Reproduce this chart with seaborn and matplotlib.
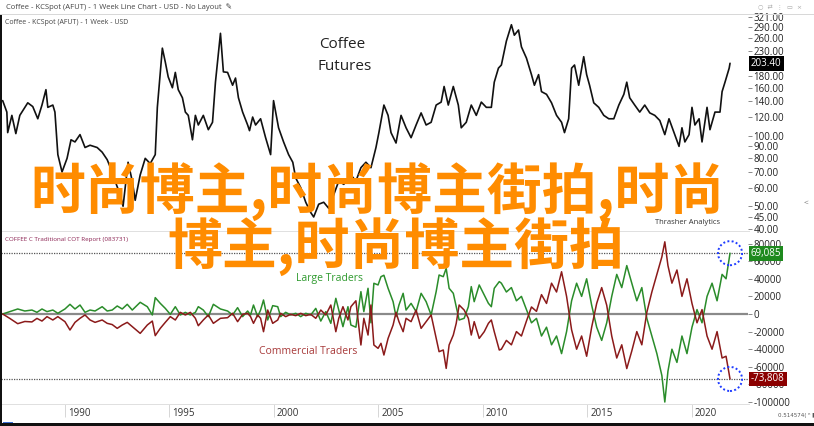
import matplotlib
matplotlib.use("Agg")
import matplotlib.pyplot as plt
import matplotlib.transforms as mtransforms
from matplotlib.patches import Rectangle
from matplotlib.ticker import NullLocator
import seaborn as sns

# coffee KC spot price
price_year = [
    1987.02, 1987.22, 1987.26, 1987.46, 1987.65, 1987.84, 1988.08, 1988.22, 1988.46, 1988.70,
    1988.90, 1989.09, 1989.18, 1989.42, 1989.52, 1989.66, 1989.86, 1990.10, 1990.29, 1990.48,
    1990.72, 1990.96, 1991.20, 1991.54, 1991.78, 1992.02, 1992.26, 1992.40, 1992.64, 1992.78,
    1993.02, 1993.22, 1993.36, 1993.60, 1993.84, 1994.08, 1994.32, 1994.42, 1994.66, 1994.80,
    1994.94, 1995.14, 1995.28, 1995.42, 1995.62, 1995.76, 1995.90, 1996.10, 1996.24, 1996.38,
    1996.62, 1996.86, 1997.06, 1997.20, 1997.44, 1997.58, 1997.78, 1998.02, 1998.16, 1998.30,
    1998.50, 1998.74, 1998.83, 1998.98, 1999.12, 1999.36, 1999.60, 1999.84, 1999.98, 2000.22,
    2000.46, 2000.70, 2000.90, 2001.04, 2001.28, 2001.52, 2001.76, 2001.90, 2002.14, 2002.38,
    2002.62, 2002.86, 2003.10, 2003.34, 2003.68, 2003.92, 2004.16, 2004.40, 2004.64, 2004.88,
    2005.02, 2005.26, 2005.46, 2005.60, 2005.84, 2006.08, 2006.32, 2006.56, 2006.80, 2007.04,
    2007.28, 2007.52, 2007.76, 2008.00, 2008.14, 2008.34, 2008.58, 2008.82, 2008.96, 2009.20,
    2009.44, 2009.68, 2009.92, 2010.16, 2010.40, 2010.54, 2010.74, 2010.88, 2011.12, 2011.36,
    2011.50, 2011.70, 2011.84, 2012.08, 2012.32, 2012.46, 2012.66, 2012.80, 2013.04, 2013.28,
    2013.52, 2013.76, 2013.90, 2014.10, 2014.24, 2014.38, 2014.58, 2014.82, 2014.96, 2015.10,
    2015.30, 2015.54, 2015.78, 2016.02, 2016.26, 2016.50, 2016.74, 2016.88, 2017.02, 2017.26,
    2017.50, 2017.74, 2017.98, 2018.22, 2018.46, 2018.70, 2018.90, 2019.14, 2019.38, 2019.52,
    2019.66, 2019.86, 2020.00, 2020.14, 2020.34, 2020.48, 2020.72, 2020.86, 2021.10, 2021.34,
    2021.44, 2021.58, 2021.78, 2021.82,
]
price = [
    141, 126, 103, 122, 102, 122, 132, 138, 133, 118,
    135, 157, 132, 135, 126, 83, 70, 80, 96, 94,
    101, 89, 91, 89, 85, 79, 70, 64, 56, 50,
    77, 64, 53, 68, 80, 76, 83, 132, 236, 206,
    178, 160, 186, 157, 145, 126, 122, 96, 122, 111,
    122, 106, 114, 169, 273, 187, 186, 164, 176, 145,
    126, 111, 105, 120, 111, 118, 98, 83, 141, 108,
    94, 83, 77, 66, 60, 52, 47, 45, 51, 52,
    49, 56, 64, 62, 68, 64, 73, 77, 73, 89,
    103, 135, 122, 103, 93, 122, 108, 98, 111, 125,
    111, 114, 135, 139, 162, 135, 162, 135, 108, 114,
    135, 122, 139, 132, 132, 169, 194, 200, 253, 297,
    268, 282, 239, 214, 182, 164, 182, 154, 150, 138,
    122, 114, 103, 118, 194, 200, 164, 217, 182, 164,
    138, 132, 122, 118, 118, 135, 150, 169, 145, 135,
    126, 135, 125, 122, 116, 101, 118, 103, 90, 108,
    94, 101, 132, 111, 118, 94, 132, 106, 126, 126,
    154, 169, 194, 203.4,
]

# COT report net positions
cot_year = [
    1987.02, 1987.36, 1987.74, 1988.08, 1988.42, 1988.66, 1988.90, 1989.14, 1989.42, 1989.66,
    1990.00, 1990.24, 1990.48, 1990.72, 1990.96, 1991.20, 1991.44, 1991.78, 1992.02, 1992.26,
    1992.50, 1992.74, 1992.98, 1993.22, 1993.60, 1993.94, 1994.18, 1994.32, 1994.56, 1994.80,
    1995.04, 1995.28, 1995.52, 1995.76, 1996.00, 1996.24, 1996.38, 1996.62, 1996.86, 1997.10,
    1997.44, 1997.78, 1998.02, 1998.26, 1998.50, 1998.74,
    1998.88, 1999.02, 1999.22, 1999.36, 1999.50, 1999.70, 1999.94, 2000.18, 2000.32, 2000.56,
    2000.80, 2001.04, 2001.28, 2001.52, 2001.76, 2002.00, 2002.24, 2002.48, 2002.72, 2002.96,
    2003.10, 2003.30, 2003.54, 2003.68, 2003.92, 2004.16, 2004.30, 2004.50, 2004.64, 2004.78,
    2004.98, 2005.12, 2005.26, 2005.46, 2005.70, 2005.84, 2005.98, 2006.18, 2006.32, 2006.56,
    2006.80, 2007.04, 2007.28, 2007.52, 2007.76, 2007.90, 2008.10, 2008.24, 2008.38, 2008.58,
    2008.72, 2008.86, 2009.10, 2009.30, 2009.44, 2009.58, 2009.82, 2010.06, 2010.26, 2010.40,
    2010.54, 2010.78,
    2010.88, 2011.12, 2011.36, 2011.60, 2011.84, 2012.08, 2012.32, 2012.56, 2012.80, 2013.04,
    2013.28, 2013.52, 2013.76, 2014.00, 2014.24, 2014.48, 2014.72, 2014.96, 2015.20, 2015.44,
    2015.68, 2015.92, 2016.16, 2016.40, 2016.64, 2016.88, 2017.12, 2017.36, 2017.60, 2017.84,
    2018.08, 2018.32, 2018.56, 2018.70, 2018.85, 2019.04, 2019.28, 2019.52, 2019.76, 2020.00,
    2020.24, 2020.48, 2020.72, 2020.96, 2021.20, 2021.44, 2021.63, 2021.82,
]
large_traders = [
    0, 2700, 5700, 3400, 4500, 1900, 5700, 2700, 4500, 800,
    5700, 11000, 5700, 10200, 1900, 4500, 3400, 8300, 3400, 4500,
    9100, 5700, 11000, 4500, 13300, 8300, -1100, 18600, 12100, 6400,
    -400, 8300, -1100, 1900, -1100, 1900, 8300, 4500, -3000, 11000,
    5700, 3400, -1100, 7200, -3000, 3400,
    -1100, 10200, -3000, 4500, 15900, -6800, 9500, 8300, -3000, 1900,
    -1100, 800, -3000, 800, -1100, 6400, -8000, 2700, -10600, 17800,
    4500, -14400, 8300, -12500, -15000, 25400, 2700, 29200, -10000, 34900,
    33000, 42400, 44000, 29200, 14000, -3000, 10200, 23500, 4500, 12100,
    2700, 23500, 14000, -1100, 25400, 44300, 42400, 51900, 29200, 23500,
    8300, -6800, -4900, 8300, 31100, 14000, 33000, 21600, 12100, 8300,
    29200, 36800,
    35000, 25000, 30000, 15000, 20000, 5000, -10000, -5000, -25000, -15000,
    -35000, -25000, -45000, -20000, 15000, 35000, 20000, 40000, 10000, -15000,
    -30000, -10000, 20000, 45000, 30000, 55000, 35000, 15000, 30000, -5000,
    -25000, -45000, -70000, -100000, -65000, -40000, -55000, -25000, -45000, -15000,
    5000, -10000, 20000, 35000, 15000, 45000, 40000, 69085,
]
commercial_traders = [
    0, -5000, -11000, -8500, -9000, -5000, -8000, -3000, -6800, -3000,
    -8700, -18200, -9500, -4900, -1100, -6800, -9500, -6800, -10600, -12000,
    -16300, -12500, -9500, -14400, -22000, -12500, -8000, -24600, -16300, -9500,
    -3000, -6800, 1900, -1100, 1900, -4900, -13300, -6800, -1100, -10600,
    -4900, -4200, 800, -8700, -400, 800,
    -3000, -10600, -1100, -4900, -20100, 4500, -10600, -6800, 800, -3000,
    -400, -1900, 800, -1900, -400, -4900, 4500, -1100, 10200, -20100,
    -4900, 8300, -6800, 8300, 15000, -35200, -4900, -23900, 10200, -35200,
    -39000, -33300, -46600, -27700, -12500, 1900, -8700, -20100, -4900, -8700,
    4500, -16300, -8700, -1100, -27700, -42800, -40900, -61800, -35200, -23900,
    -10600, 10200, 4500, -4900, -23900, -8700, -27700, -20100, -10600, -6800,
    -20100, -40900,
    -40000, -30000, -35000, -20000, -25000, -8000, 8000, 3000, 22000, 12000,
    35000, 25000, 48000, 20000, -18000, -40000, -25000, -48000, -15000, 12000,
    30000, 10000, -25000, -50000, -35000, -62000, -42000, -20000, -35000, 2000,
    25000, 45000, 65000, 82000, 55000, 35000, 50000, 20000, 40000, 12000,
    -10000, 5000, -25000, -40000, -20000, -50000, -48000, -73808,
]

price_ticks = [321, 290, 260, 230, 180, 160, 140, 120, 100, 90, 80, 70, 60, 50, 45, 40]
cot_ticks = [80000, 60000, 40000, 20000, 0, -20000, -40000, -60000, -80000, -100000]
year_ticks = [1990, 1995, 2000, 2005, 2010, 2015, 2020]
last_price = 203.40
last_large = 69085
last_comm = -73808

W, H = 814, 426


def fx(px):
    return px / W


def fy(py):
    return 1 - py / H


sns.set_theme(style="white")
plt.rcParams["font.family"] = ["Open Sans", "DejaVu Sans"]

fig = plt.figure(figsize=(W / 100, H / 100), dpi=100)
fig.patch.set_facecolor("white")

ax_top = fig.add_axes([fx(1), fy(230), fx(748) - fx(1), fy(14) - fy(230)])
ax_bot = fig.add_axes([fx(1), fy(404), fx(748) - fx(1), fy(232) - fy(404)], sharex=ax_top)

# ---- price panel
sns.lineplot(x=price_year, y=price, ax=ax_top, color="#111111", linewidth=1.2, estimator=None)
ax_top.set_yscale("log")
ax_top.set_ylim(39.6, 330)
ax_top.yaxis.set_minor_locator(NullLocator())
ax_top.set_yticks(price_ticks)
ax_top.set_yticklabels([f"{v:.2f}" for v in price_ticks])
ax_top.yaxis.tick_right()
ax_top.tick_params(axis="y", length=3, width=0.6, color="#777", labelsize=7, pad=1,
                   labelcolor="#222", right=True, left=False)
ax_top.tick_params(axis="x", bottom=False, labelbottom=False)
ax_top.set_xlabel("")
ax_top.set_ylabel("")

blend_top = mtransforms.blended_transform_factory(ax_top.transAxes, ax_top.transData)
ax_top.text(1.004, last_price, f"{last_price:.2f}", transform=blend_top, ha="left", va="center",
            fontsize=7, color="white", zorder=10, clip_on=False,
            bbox=dict(boxstyle="square,pad=0.2", fc="black", ec="none"))

# ---- COT panel
sns.lineplot(x=cot_year, y=large_traders, ax=ax_bot, color="#2a8c2a", linewidth=1.1, estimator=None)
sns.lineplot(x=cot_year, y=commercial_traders, ax=ax_bot, color="#8b1a1a", linewidth=1.1, estimator=None)
ax_bot.axhline(0, color="#8a8a8a", lw=1.6, zorder=1)
ax_bot.axhline(last_large, color="#555", lw=0.9, ls=(0, (1, 1)), zorder=1)
ax_bot.axhline(last_comm, color="#555", lw=0.9, ls=(0, (1, 1)), zorder=1)
ax_bot.scatter([cot_year[-1], cot_year[-1]], [last_large, last_comm], s=300, facecolors="none",
               edgecolors="#1f3cff", linewidths=1.4, linestyles=(0, (1, 1.2)), zorder=5)
ax_bot.set_ylim(-102240, 93150)
ax_bot.set_yticks(cot_ticks)
ax_bot.set_yticklabels([f"{v}" for v in cot_ticks])
ax_bot.yaxis.tick_right()
ax_bot.tick_params(axis="y", length=3, width=0.6, color="#777", labelsize=7, pad=1,
                   labelcolor="#222", right=True, left=False)
ax_bot.set_xlabel("")
ax_bot.set_ylabel("")

blend_bot = mtransforms.blended_transform_factory(ax_bot.transAxes, ax_bot.transData)
ax_bot.text(1.004, last_large, f"{last_large:,}", transform=blend_bot, ha="left", va="center",
            fontsize=7, color="white", zorder=10, clip_on=False,
            bbox=dict(boxstyle="square,pad=0.2", fc="#1e8a1e", ec="none"))
ax_bot.text(1.004, last_comm, f"{last_comm:,}", transform=blend_bot, ha="left", va="center",
            fontsize=7, color="white", zorder=10, clip_on=False,
            bbox=dict(boxstyle="square,pad=0.2", fc="#8b0000", ec="none"))

ax_bot.set_xlim(1986.94, 2022.68)
ax_bot.set_xticks(year_ticks)
ax_bot.set_xticklabels([str(y) for y in year_ticks])
ax_bot.tick_params(axis="x", direction="out", length=9, width=0.6, color="#d0d0d0",
                   labelsize=7, labelcolor="#333", pad=-6, bottom=True)
shift = mtransforms.ScaledTranslation(2 / 72, 0, fig.dpi_scale_trans)
for lbl in ax_bot.get_xticklabels():
    lbl.set_ha("left")
    lbl.set_transform(lbl.get_transform() + shift)

for ax in (ax_top, ax_bot):
    for s in ax.spines.values():
        s.set_visible(False)
    ax.set_facecolor("white")

# ---- frame and header pieces
fig.add_artist(Rectangle((0, fy(14.5)), 1, 0.6 / H, transform=fig.transFigure, fc="#d8d8d8", ec="none"))
fig.add_artist(Rectangle((0, fy(231.5)), fx(750), 1 / H, transform=fig.transFigure, fc="#e0e0e0", ec="none"))
fig.add_artist(Rectangle((0, fy(404.5)), fx(750), 0.6 / H, transform=fig.transFigure, fc="#e0e0e0", ec="none"))
fig.add_artist(Rectangle((0, fy(423)), fx(2), fy(15) - fy(423), transform=fig.transFigure, fc="#111", ec="none"))
fig.add_artist(Rectangle((0, 0), 1, 3 / H, transform=fig.transFigure, fc="#111", ec="none"))
fig.add_artist(Rectangle((fx(3), fy(423)), fx(10), 1.5 / H, transform=fig.transFigure, fc="#3b6fd6", ec="none"))

fig.text(fx(6), fy(7.5), "Coffee - KCSpot (AFUT) - 1 Week Line Chart - USD - No Layout  \u270e",
         fontsize=5.5, color="#444", va="center", family=["Open Sans", "DejaVu Sans"])
fig.text(fx(758), fy(7.5), "\u25cb  \u21c4  \u22ee  \u25ad  \u00d7", fontsize=4.5, color="#aaa",
         va="center", family=["DejaVu Sans"])
fig.text(fx(5), fy(22), "Coffee - KCSpot (AFUT) - 1 Week - USD", fontsize=5, color="#444", va="center")
fig.text(fx(5), fy(239), "COFFEE C Traditional COT Report (083731)", fontsize=4.5, color="#8b2252", va="center")
fig.text(fx(342), fy(44), "Coffee", fontsize=11, color="#222", ha="center", va="center")
fig.text(fx(345), fy(67), "Futures", fontsize=11, color="#222", ha="center", va="center")
fig.text(fx(688), fy(223), "Thrasher Analytics", fontsize=5.5, color="#333", ha="center", va="center")
fig.text(fx(329), fy(278), "Large Traders", fontsize=7.5, color="#2f9a2f", ha="center", va="center")
fig.text(fx(308), fy(352), "Commercial Traders", fontsize=7.5, color="#a83a3a", ha="center", va="center")
fig.text(fx(806), fy(203), "<", fontsize=6, color="#777", ha="center", va="center")
fig.text(fx(778), fy(415), "0.514574( \u207f \u25ae", fontsize=4, color="#555", ha="left", va="center",
         family=["DejaVu Sans"])

# orange overlay text
fig.text(fx(30), fy(192), "时尚博主,时尚博主街拍,时尚", fontsize=39.5, color="#ff8c00",
         family=["Noto Sans CJK SC"], weight="bold", ha="left", va="center")
fig.text(fx(167), fy(247), "博主,时尚博主街拍", fontsize=39.5, color="#ff8c00",
         family=["Noto Sans CJK SC"], weight="bold", ha="left", va="center")

fig.savefig("out.png", dpi=100)
